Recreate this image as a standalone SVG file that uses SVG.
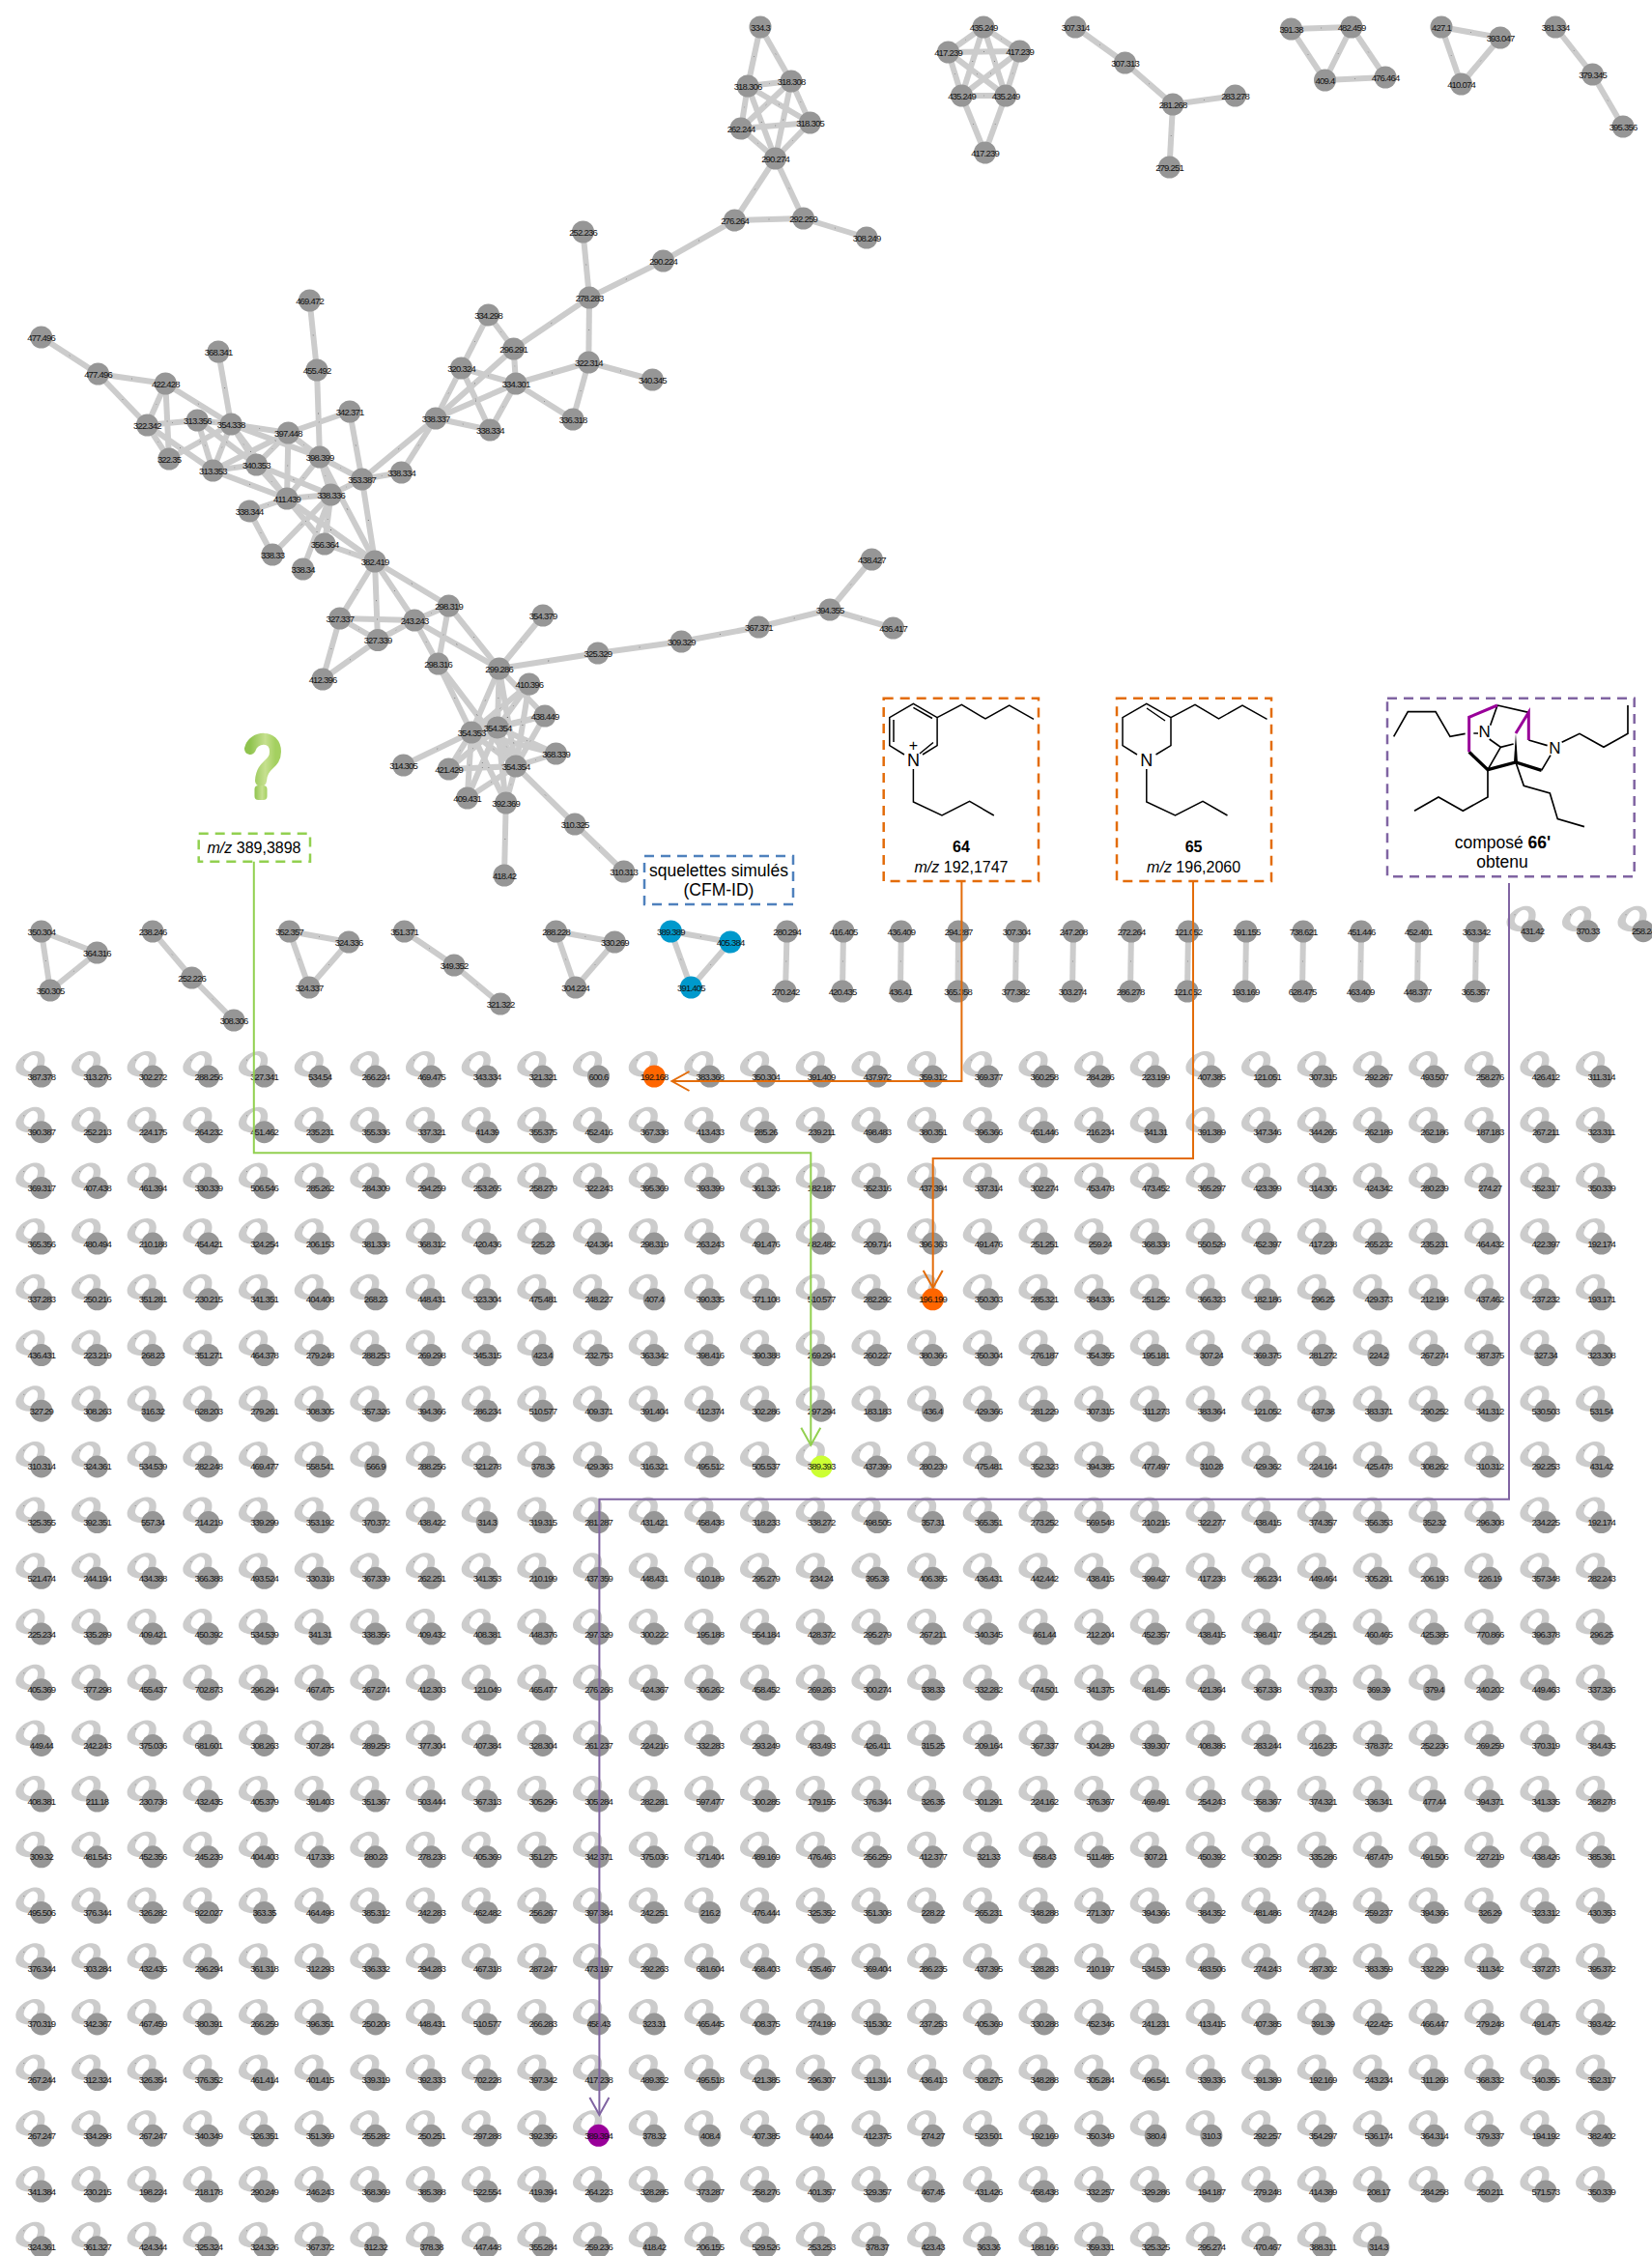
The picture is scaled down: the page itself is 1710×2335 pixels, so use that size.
<svg xmlns="http://www.w3.org/2000/svg" width="1710" height="2335" viewBox="0 0 1710 2335">
<style>
text{font-family:"Liberation Sans",Arial,sans-serif}
.g text,g.g text{font-size:9.5px;letter-spacing:-.8px;fill:#111;text-anchor:middle;dominant-baseline:central}
.c{fill:#969696}
.le{fill:#ccc;fill-rule:evenodd}
.ed{stroke:#ccc;stroke-width:6;fill:none}
.dt{stroke:#666;stroke-width:1;fill:none;stroke-dasharray:0 .99 .02 3}
.box{fill:none;stroke-width:2.5;stroke-dasharray:10 7}
.ln{fill:none;stroke-width:2}
.t{font-size:16px;fill:#000;text-anchor:middle}
.t2{font-size:17.5px;fill:#000;text-anchor:middle}
.mol{fill:none;stroke:#000;stroke-width:1.5;stroke-linejoin:miter}
.at{font-size:18px;fill:#000;text-anchor:middle}
</style>
<defs>
<g id="l"><path class="le" d="M-2,0C-12,2 -27,0 -26.5,-9C-26,-18 -14,-26.5 -5,-26C3,-25 5,-19 3,-12L1,-2ZM-12,-5C-16,-6 -19,-9 -18,-12C-17,-17 -12,-22.5 -8,-22C-4,-21 -3,-18 -4,-14C-5,-10 -7,-7 -8,-6Z"/><circle cx="-18" cy="-17" r=".5" fill="#777"/></g>
<circle id="c" class="c" r="11.5"/>
<g id="R25"><use href="#l" x="42.8"/><use href="#l" x="100.5"/><use href="#l" x="158.1"/><use href="#l" x="215.8"/><use href="#l" x="273.5"/><use href="#l" x="331.2"/><use href="#l" x="388.8"/><use href="#l" x="446.5"/><use href="#l" x="504.2"/><use href="#l" x="561.8"/><use href="#l" x="619.5"/><use href="#l" x="677.2"/><use href="#l" x="734.8"/><use href="#l" x="792.5"/><use href="#l" x="850.2"/><use href="#l" x="907.9"/><use href="#l" x="965.5"/><use href="#l" x="1023.2"/><use href="#l" x="1080.9"/><use href="#l" x="1138.5"/><use href="#l" x="1196.2"/><use href="#l" x="1253.9"/><use href="#l" x="1311.5"/><use href="#l" x="1369.2"/><use href="#l" x="1426.9"/></g>
<g id="R"><use href="#R25"/><use href="#l" x="1484.6"/><use href="#l" x="1542.2"/><use href="#l" x="1599.9"/><use href="#l" x="1657.6"/></g>
<g id="E">
<path pathLength="2" d="M787 28L774 89"/>
<path pathLength="2" d="M787 28L819 84"/><path pathLength="2" d="M774 89L819 84"/><path pathLength="2" d="M774 89L767 133"/><path pathLength="2" d="M774 89L838.5 127"/><path pathLength="2" d="M774 89L802.5 164"/><path pathLength="2" d="M819 84L767 133"/><path pathLength="2" d="M819 84L838.5 127"/><path pathLength="2" d="M819 84L802.5 164"/><path pathLength="2" d="M767 133L838.5 127"/><path pathLength="2" d="M767 133L802.5 164"/><path pathLength="2" d="M838.5 127L802.5 164"/><path pathLength="2" d="M802.5 164L760.5 228"/><path pathLength="2" d="M802.5 164L831.5 226"/><path pathLength="2" d="M760.5 228L831.5 226"/><path pathLength="2" d="M831.5 226L897 246"/><path pathLength="2" d="M760.5 228L686.5 270"/>
<path pathLength="2" d="M1018 28L981.5 54"/><path pathLength="2" d="M1018 28L1055.5 53"/><path pathLength="2" d="M981.5 54L1055.5 53"/><path pathLength="2" d="M981.5 54L995.5 99"/><path pathLength="2" d="M981.5 54L1041 99"/><path pathLength="2" d="M1055.5 53L995.5 99"/><path pathLength="2" d="M1055.5 53L1041 99"/><path pathLength="2" d="M995.5 99L1041 99"/><path pathLength="2" d="M1018 28L995.5 99"/><path pathLength="2" d="M1018 28L1041 99"/><path pathLength="2" d="M995.5 99L1019.5 158"/><path pathLength="2" d="M1041 99L1019.5 158"/>
<path pathLength="2" d="M1113 28L1164.5 65"/><path pathLength="2" d="M1164.5 65L1214 108"/><path pathLength="2" d="M1214 108L1278.5 99"/><path pathLength="2" d="M1214 108L1210.5 173"/>
<path pathLength="2" d="M1336.5 30L1399 28"/><path pathLength="2" d="M1336.5 30L1371.5 83"/><path pathLength="2" d="M1399 28L1371.5 83"/><path pathLength="2" d="M1399 28L1434 80"/><path pathLength="2" d="M1371.5 83L1434 80"/>
<path pathLength="2" d="M1492 28L1553 39"/><path pathLength="2" d="M1492 28L1512.5 87"/><path pathLength="2" d="M1553 39L1512.5 87"/>
<path pathLength="2" d="M1610 28L1648.5 77"/><path pathLength="2" d="M1648.5 77L1680 131"/>
<path pathLength="2" d="M42.7 349L101.5 387"/><path pathLength="2" d="M101.5 387L171.3 397"/><path pathLength="2" d="M101.5 387L152.4 440"/><path pathLength="2" d="M171.3 397L152.4 440"/><path pathLength="2" d="M171.3 397L175 475"/><path pathLength="2" d="M171.3 397L239.2 439"/><path pathLength="2" d="M152.4 440L204.3 435"/><path pathLength="2" d="M152.4 440L175 475"/><path pathLength="2" d="M152.4 440L220.4 487"/><path pathLength="2" d="M204.3 435L239.2 439"/><path pathLength="2" d="M204.3 435L220.4 487"/><path pathLength="2" d="M204.3 435L265.4 481"/><path pathLength="2" d="M175 475L239.2 439"/><path pathLength="2" d="M226 364L239.2 439"/><path pathLength="2" d="M239.2 439L298.4 448"/><path pathLength="2" d="M239.2 439L331 473"/><path pathLength="2" d="M239.2 439L220.4 487"/><path pathLength="2" d="M239.2 439L265.4 481"/><path pathLength="2" d="M239.2 439L297 516"/><path pathLength="2" d="M298.4 448L220.4 487"/><path pathLength="2" d="M298.4 448L265.4 481"/><path pathLength="2" d="M298.4 448L297 516"/><path pathLength="2" d="M298.4 448L331 473"/><path pathLength="2" d="M298.4 448L362 426"/><path pathLength="2" d="M320.5 311L328 383"/><path pathLength="2" d="M328 383L331 473"/><path pathLength="2" d="M362 426L374.7 496"/><path pathLength="2" d="M331 473L374.7 496"/><path pathLength="2" d="M331 473L297 516"/><path pathLength="2" d="M331 473L342.5 512"/><path pathLength="2" d="M331 473L388 581"/><path pathLength="2" d="M265.4 481L220.4 487"/><path pathLength="2" d="M265.4 481L297 516"/><path pathLength="2" d="M265.4 481L342.5 512"/><path pathLength="2" d="M220.4 487L297 516"/><path pathLength="2" d="M297 516L342.5 512"/><path pathLength="2" d="M297 516L258 529"/><path pathLength="2" d="M297 516L388 581"/><path pathLength="2" d="M297 516L336 563"/><path pathLength="2" d="M342.5 512L374.7 496"/><path pathLength="2" d="M342.5 512L282 574"/><path pathLength="2" d="M342.5 512L336 563"/><path pathLength="2" d="M342.5 512L313.6 589"/><path pathLength="2" d="M258 529L282 574"/><path pathLength="2" d="M336 563L388 581"/><path pathLength="2" d="M374.7 496L415.5 489"/><path pathLength="2" d="M374.7 496L388 581"/><path pathLength="2" d="M374.7 496L451 433"/><path pathLength="2" d="M415.5 489L451 433"/><path pathLength="2" d="M451 433L477.5 381"/><path pathLength="2" d="M451 433L507.3 445"/><path pathLength="2" d="M451 433L531.7 361"/><path pathLength="2" d="M451 433L534 397"/><path pathLength="2" d="M477.5 381L505.5 326"/><path pathLength="2" d="M477.5 381L534 397"/><path pathLength="2" d="M477.5 381L507.3 445"/><path pathLength="2" d="M505.5 326L531.7 361"/><path pathLength="2" d="M531.7 361L534 397"/><path pathLength="2" d="M531.7 361L610 308"/><path pathLength="2" d="M534 397L507.3 445"/><path pathLength="2" d="M534 397L609.3 375"/><path pathLength="2" d="M534 397L593 434"/><path pathLength="2" d="M609.3 375L593 434"/><path pathLength="2" d="M609.3 375L675.4 393"/><path pathLength="2" d="M609.3 375L610 308"/><path pathLength="2" d="M610 308L603.5 240"/><path pathLength="2" d="M610 308L686.5 270"/>
<path pathLength="2" d="M388 581L351.8 640"/><path pathLength="2" d="M388 581L391 662.5"/><path pathLength="2" d="M388 581L429 642"/><path pathLength="2" d="M388 581L464.5 627"/><path pathLength="2" d="M351.8 640L429 642"/><path pathLength="2" d="M351.8 640L391 662.5"/><path pathLength="2" d="M351.8 640L334 703"/><path pathLength="2" d="M391 662.5L429 642"/><path pathLength="2" d="M391 662.5L334 703"/><path pathLength="2" d="M429 642L464.5 627"/><path pathLength="2" d="M429 642L453.5 687"/><path pathLength="2" d="M429 642L516.7 692"/><path pathLength="2" d="M464.5 627L453.5 687"/><path pathLength="2" d="M464.5 627L516.7 692"/><path pathLength="2" d="M453.5 687L488 758"/><path pathLength="2" d="M453.5 687L534 793"/><path pathLength="2" d="M562 637L516.7 692"/><path pathLength="2" d="M516.7 692L618.8 676"/><path pathLength="2" d="M618.8 676L705.3 664"/><path pathLength="2" d="M705.3 664L785.3 649"/><path pathLength="2" d="M785.3 649L859 631"/><path pathLength="2" d="M859 631L902.4 579"/><path pathLength="2" d="M859 631L924.5 650"/><path pathLength="2" d="M516.7 692L488 758"/><path pathLength="2" d="M516.7 692L515 753"/><path pathLength="2" d="M516.7 692L534 793"/><path pathLength="2" d="M516.7 692L564 741"/><path pathLength="2" d="M547.8 708L488 758"/><path pathLength="2" d="M547.8 708L515 753"/><path pathLength="2" d="M547.8 708L534 793"/><path pathLength="2" d="M564 741L488 758"/><path pathLength="2" d="M564 741L515 753"/><path pathLength="2" d="M564 741L534 793"/><path pathLength="2" d="M488 758L515 753"/><path pathLength="2" d="M488 758L534 793"/><path pathLength="2" d="M488 758L575.5 780"/><path pathLength="2" d="M488 758L417.6 792"/><path pathLength="2" d="M488 758L464.5 796"/><path pathLength="2" d="M488 758L483.7 826"/><path pathLength="2" d="M488 758L523.7 831"/><path pathLength="2" d="M515 753L575.5 780"/><path pathLength="2" d="M515 753L534 793"/><path pathLength="2" d="M515 753L464.5 796"/><path pathLength="2" d="M515 753L483.7 826"/><path pathLength="2" d="M515 753L523.7 831"/><path pathLength="2" d="M534 793L575.5 780"/><path pathLength="2" d="M534 793L464.5 796"/><path pathLength="2" d="M534 793L483.7 826"/><path pathLength="2" d="M534 793L523.7 831"/><path pathLength="2" d="M534 793L595 853"/><path pathLength="2" d="M523.7 831L522 906"/><path pathLength="2" d="M595 853L645.7 902"/>
<path pathLength="2" d="M42.8 964L100.4 986"/><path pathLength="2" d="M42.8 964L52 1025"/><path pathLength="2" d="M100.4 986L52 1025"/><path pathLength="2" d="M158 964L198.6 1012"/><path pathLength="2" d="M198.6 1012L242 1056"/><path pathLength="2" d="M299.5 964L361 975"/><path pathLength="2" d="M299.5 964L320 1022"/><path pathLength="2" d="M361 975L320 1022"/><path pathLength="2" d="M418.5 964L470 999"/><path pathLength="2" d="M470 999L518 1039"/><path pathLength="2" d="M575.5 964L636.3 975"/><path pathLength="2" d="M575.5 964L595.7 1022"/><path pathLength="2" d="M636.3 975L595.7 1022"/><path pathLength="2" d="M694.4 964L756 975"/><path pathLength="2" d="M694.4 964L715.3 1022"/><path pathLength="2" d="M756 975L715.3 1022"/><path pathLength="2" d="M814.6 964L813 1026"/><path pathLength="2" d="M873 964L872 1026"/><path pathLength="2" d="M932.8 964L932 1026"/><path pathLength="2" d="M992 964L991.5 1026"/><path pathLength="2" d="M1052 964L1051 1026"/><path pathLength="2" d="M1111 964L1110 1026"/><path pathLength="2" d="M1171 964L1170 1026"/><path pathLength="2" d="M1230 964L1229 1026"/><path pathLength="2" d="M1290 964L1289 1026"/><path pathLength="2" d="M1349 964L1348 1026"/><path pathLength="2" d="M1409 964L1408 1026"/><path pathLength="2" d="M1468 964L1467 1026"/><path pathLength="2" d="M1528 964L1527 1026"/>
</g>
<marker id="mo" markerWidth="24" markerHeight="24" refX="20" refY="12" orient="auto" markerUnits="userSpaceOnUse"><path d="M2,2L20,12L2,22" fill="none" stroke="#e36c0a" stroke-width="2"/></marker>
<marker id="mg" markerWidth="24" markerHeight="24" refX="20" refY="12" orient="auto" markerUnits="userSpaceOnUse"><path d="M2,2L20,12L2,22" fill="none" stroke="#92d050" stroke-width="2"/></marker>
<marker id="mp" markerWidth="24" markerHeight="24" refX="20" refY="12" orient="auto" markerUnits="userSpaceOnUse"><path d="M2,2L20,12L2,22" fill="none" stroke="#8064a2" stroke-width="2"/></marker>
<linearGradient id="qg" x1="0" y1="0" x2="1" y2="0"><stop offset="0" stop-color="#8fc34e"/><stop offset=".6" stop-color="#c6e08f"/><stop offset="1" stop-color="#a4d060"/></linearGradient>
</defs>
<rect width="1710" height="2335" fill="#fff"/>
<g id="connectors">
<use href="#E" class="ed"/><use href="#E" class="dt"/>
<use href="#l" x="1586" y="963.7"/><use href="#l" x="1643.5" y="963.7"/><use href="#l" x="1701" y="963.7"/>
<use href="#R" y="1114"/><use href="#R" y="1171.7"/><use href="#R" y="1229.4"/><use href="#R" y="1287.1"/><use href="#R" y="1344.8"/><use href="#R" y="1402.5"/><use href="#R" y="1460.2"/><use href="#R" y="1517.9"/><use href="#R" y="1575.6"/><use href="#R" y="1633.3"/><use href="#R" y="1691"/><use href="#R" y="1748.7"/><use href="#R" y="1806.4"/><use href="#R" y="1864.1"/><use href="#R" y="1921.8"/><use href="#R" y="1979.5"/><use href="#R" y="2037.2"/><use href="#R" y="2094.9"/><use href="#R" y="2152.6"/><use href="#R" y="2210.3"/><use href="#R" y="2268"/><use href="#R25" y="2325.7"/>
</g>
<g id="upper-nodes" class="g">
<g id="u1" transform="translate(787,28)"><use href="#c"/><text>334.3</text></g>
<g id="u2" transform="translate(774,89)"><use href="#c"/><text>318.306</text></g>
<g id="u3" transform="translate(819,84)"><use href="#c"/><text>318.308</text></g>
<g id="u4" transform="translate(767,133)"><use href="#c"/><text>262.244</text></g>
<g id="u5" transform="translate(838.5,127)"><use href="#c"/><text>318.305</text></g>
<g id="u6" transform="translate(802.5,164)"><use href="#c"/><text>290.274</text></g>
<g id="u7" transform="translate(760.5,228)"><use href="#c"/><text>276.264</text></g>
<g id="u8" transform="translate(831.5,226)"><use href="#c"/><text>292.259</text></g>
<g id="u9" transform="translate(897,246)"><use href="#c"/><text>308.249</text></g>
<g id="u10" transform="translate(686.5,270)"><use href="#c"/><text>290.224</text></g>
<g id="u11" transform="translate(603.5,240)"><use href="#c"/><text>252.236</text></g>
<g id="u12" transform="translate(1018,28)"><use href="#c"/><text>435.249</text></g>
<g id="u13" transform="translate(981.5,54)"><use href="#c"/><text>417.239</text></g>
<g id="u14" transform="translate(1055.5,53)"><use href="#c"/><text>417.239</text></g>
<g id="u15" transform="translate(995.5,99)"><use href="#c"/><text>435.249</text></g>
<g id="u16" transform="translate(1041,99)"><use href="#c"/><text>435.249</text></g>
<g id="u17" transform="translate(1019.5,158)"><use href="#c"/><text>417.239</text></g>
<g id="u18" transform="translate(1113,28)"><use href="#c"/><text>307.314</text></g>
<g id="u19" transform="translate(1164.5,65)"><use href="#c"/><text>307.313</text></g>
<g id="u20" transform="translate(1214,108)"><use href="#c"/><text>281.268</text></g>
<g id="u21" transform="translate(1278.5,99)"><use href="#c"/><text>283.278</text></g>
<g id="u22" transform="translate(1210.5,173)"><use href="#c"/><text>279.251</text></g>
<g id="u23" transform="translate(1336.5,30)"><use href="#c"/><text>391.38</text></g>
<g id="u24" transform="translate(1399,28)"><use href="#c"/><text>482.459</text></g>
<g id="u25" transform="translate(1371.5,83)"><use href="#c"/><text>409.4</text></g>
<g id="u26" transform="translate(1434,80)"><use href="#c"/><text>476.464</text></g>
<g id="u27" transform="translate(1492,28)"><use href="#c"/><text>427.1</text></g>
<g id="u28" transform="translate(1553,39)"><use href="#c"/><text>393.047</text></g>
<g id="u29" transform="translate(1512.5,87)"><use href="#c"/><text>410.074</text></g>
<g id="u30" transform="translate(1610,28)"><use href="#c"/><text>381.334</text></g>
<g id="u31" transform="translate(1648.5,77)"><use href="#c"/><text>379.345</text></g>
<g id="u32" transform="translate(1680,131)"><use href="#c"/><text>395.356</text></g>
<g id="u33" transform="translate(42.7,349)"><use href="#c"/><text>477.496</text></g>
<g id="u34" transform="translate(101.5,387)"><use href="#c"/><text>477.496</text></g>
<g id="u35" transform="translate(171.3,397)"><use href="#c"/><text>422.428</text></g>
<g id="u36" transform="translate(152.4,440)"><use href="#c"/><text>322.342</text></g>
<g id="u37" transform="translate(204.3,435)"><use href="#c"/><text>313.356</text></g>
<g id="u38" transform="translate(239.2,439)"><use href="#c"/><text>354.338</text></g>
<g id="u39" transform="translate(226,364)"><use href="#c"/><text>368.341</text></g>
<g id="u40" transform="translate(320.5,311)"><use href="#c"/><text>469.472</text></g>
<g id="u41" transform="translate(328,383)"><use href="#c"/><text>455.492</text></g>
<g id="u42" transform="translate(362,426)"><use href="#c"/><text>342.371</text></g>
<g id="u43" transform="translate(298.4,448)"><use href="#c"/><text>397.448</text></g>
<g id="u44" transform="translate(331,473)"><use href="#c"/><text>398.399</text></g>
<g id="u45" transform="translate(265.4,481)"><use href="#c"/><text>340.353</text></g>
<g id="u46" transform="translate(175,475)"><use href="#c"/><text>322.35</text></g>
<g id="u47" transform="translate(220.4,487)"><use href="#c"/><text>313.353</text></g>
<g id="u48" transform="translate(297,516)"><use href="#c"/><text>411.439</text></g>
<g id="u49" transform="translate(342.5,512)"><use href="#c"/><text>338.336</text></g>
<g id="u50" transform="translate(374.7,496)"><use href="#c"/><text>353.387</text></g>
<g id="u51" transform="translate(415.5,489)"><use href="#c"/><text>338.334</text></g>
<g id="u52" transform="translate(258,529)"><use href="#c"/><text>338.344</text></g>
<g id="u53" transform="translate(282,574)"><use href="#c"/><text>338.33</text></g>
<g id="u54" transform="translate(313.6,589)"><use href="#c"/><text>338.34</text></g>
<g id="u55" transform="translate(336,563)"><use href="#c"/><text>356.364</text></g>
<g id="u56" transform="translate(388,581)"><use href="#c"/><text>382.419</text></g>
<g id="u57" transform="translate(451,433)"><use href="#c"/><text>338.337</text></g>
<g id="u58" transform="translate(477.5,381)"><use href="#c"/><text>320.324</text></g>
<g id="u59" transform="translate(505.5,326)"><use href="#c"/><text>334.298</text></g>
<g id="u60" transform="translate(531.7,361)"><use href="#c"/><text>296.291</text></g>
<g id="u61" transform="translate(534,397)"><use href="#c"/><text>334.301</text></g>
<g id="u62" transform="translate(507.3,445)"><use href="#c"/><text>338.334</text></g>
<g id="u63" transform="translate(593,434)"><use href="#c"/><text>336.318</text></g>
<g id="u64" transform="translate(609.3,375)"><use href="#c"/><text>322.314</text></g>
<g id="u65" transform="translate(675.4,393)"><use href="#c"/><text>340.345</text></g>
<g id="u66" transform="translate(610,308)"><use href="#c"/><text>278.283</text></g>
<g id="u67" transform="translate(351.8,640)"><use href="#c"/><text>327.337</text></g>
<g id="u68" transform="translate(429,642)"><use href="#c"/><text>243.243</text></g>
<g id="u69" transform="translate(464.5,627)"><use href="#c"/><text>298.319</text></g>
<g id="u70" transform="translate(562,637)"><use href="#c"/><text>354.379</text></g>
<g id="u71" transform="translate(391,662.5)"><use href="#c"/><text>327.339</text></g>
<g id="u72" transform="translate(334,703)"><use href="#c"/><text>412.396</text></g>
<g id="u73" transform="translate(453.5,687)"><use href="#c"/><text>298.316</text></g>
<g id="u74" transform="translate(516.7,692)"><use href="#c"/><text>299.286</text></g>
<g id="u75" transform="translate(547.8,708)"><use href="#c"/><text>410.396</text></g>
<g id="u76" transform="translate(564,741)"><use href="#c"/><text>438.449</text></g>
<g id="u77" transform="translate(488,758)"><use href="#c"/><text>354.353</text></g>
<g id="u78" transform="translate(515,753)"><use href="#c"/><text>354.354</text></g>
<g id="u79" transform="translate(575.5,780)"><use href="#c"/><text>368.339</text></g>
<g id="u80" transform="translate(417.6,792)"><use href="#c"/><text>314.305</text></g>
<g id="u81" transform="translate(464.5,796)"><use href="#c"/><text>421.429</text></g>
<g id="u82" transform="translate(534,793)"><use href="#c"/><text>354.354</text></g>
<g id="u83" transform="translate(483.7,826)"><use href="#c"/><text>409.431</text></g>
<g id="u84" transform="translate(523.7,831)"><use href="#c"/><text>392.369</text></g>
<g id="u85" transform="translate(595,853)"><use href="#c"/><text>310.325</text></g>
<g id="u86" transform="translate(522,906)"><use href="#c"/><text>418.42</text></g>
<g id="u87" transform="translate(645.7,902)"><use href="#c"/><text>310.313</text></g>
<g id="u88" transform="translate(618.8,676)"><use href="#c"/><text>325.329</text></g>
<g id="u89" transform="translate(705.3,664)"><use href="#c"/><text>309.329</text></g>
<g id="u90" transform="translate(785.3,649)"><use href="#c"/><text>367.371</text></g>
<g id="u91" transform="translate(859,631)"><use href="#c"/><text>394.355</text></g>
<g id="u92" transform="translate(902.4,579)"><use href="#c"/><text>438.427</text></g>
<g id="u93" transform="translate(924.5,650)"><use href="#c"/><text>436.417</text></g>
</g>
<g id="small-nodes" class="g">
<g id="s1" transform="translate(42.8,964)"><use href="#c"/><text>350.304</text></g>
<g id="s2" transform="translate(100.4,986)"><use href="#c"/><text>364.316</text></g>
<g id="s3" transform="translate(52,1025)"><use href="#c"/><text>350.305</text></g>
<g id="s4" transform="translate(158,964)"><use href="#c"/><text>238.246</text></g>
<g id="s5" transform="translate(198.6,1012)"><use href="#c"/><text>252.226</text></g>
<g id="s6" transform="translate(242,1056)"><use href="#c"/><text>308.306</text></g>
<g id="s7" transform="translate(299.5,964)"><use href="#c"/><text>352.357</text></g>
<g id="s8" transform="translate(361,975)"><use href="#c"/><text>324.336</text></g>
<g id="s9" transform="translate(320,1022)"><use href="#c"/><text>324.337</text></g>
<g id="s10" transform="translate(418.5,964)"><use href="#c"/><text>351.371</text></g>
<g id="s11" transform="translate(470,999)"><use href="#c"/><text>349.352</text></g>
<g id="s12" transform="translate(518,1039)"><use href="#c"/><text>321.322</text></g>
<g id="s13" transform="translate(575.5,964)"><use href="#c"/><text>288.228</text></g>
<g id="s14" transform="translate(636.3,975)"><use href="#c"/><text>330.269</text></g>
<g id="s15" transform="translate(595.7,1022)"><use href="#c"/><text>304.224</text></g>
<g id="s16" transform="translate(694.4,964)"><circle r="11.5" fill="#0099cc"/><text>389.389</text></g>
<g id="s17" transform="translate(756,975)"><circle r="11.5" fill="#0099cc"/><text>405.384</text></g>
<g id="s18" transform="translate(715.3,1022)"><circle r="11.5" fill="#0099cc"/><text>391.405</text></g>
<g id="s19" transform="translate(814.6,964)"><use href="#c"/><text>280.294</text></g>
<g id="s20" transform="translate(813,1026)"><use href="#c"/><text>270.242</text></g>
<g id="s21" transform="translate(873,964)"><use href="#c"/><text>416.405</text></g>
<g id="s22" transform="translate(872,1026)"><use href="#c"/><text>420.435</text></g>
<g id="s23" transform="translate(932.8,964)"><use href="#c"/><text>436.409</text></g>
<g id="s24" transform="translate(932,1026)"><use href="#c"/><text>436.41</text></g>
<g id="s25" transform="translate(992,964)"><use href="#c"/><text>294.287</text></g>
<g id="s26" transform="translate(991.5,1026)"><use href="#c"/><text>365.358</text></g>
<g id="s27" transform="translate(1052,964)"><use href="#c"/><text>307.304</text></g>
<g id="s28" transform="translate(1051,1026)"><use href="#c"/><text>377.382</text></g>
<g id="s29" transform="translate(1111,964)"><use href="#c"/><text>247.208</text></g>
<g id="s30" transform="translate(1110,1026)"><use href="#c"/><text>303.274</text></g>
<g id="s31" transform="translate(1171,964)"><use href="#c"/><text>272.264</text></g>
<g id="s32" transform="translate(1170,1026)"><use href="#c"/><text>286.278</text></g>
<g id="s33" transform="translate(1230,964)"><use href="#c"/><text>121.052</text></g>
<g id="s34" transform="translate(1229,1026)"><use href="#c"/><text>121.052</text></g>
<g id="s35" transform="translate(1290,964)"><use href="#c"/><text>191.155</text></g>
<g id="s36" transform="translate(1289,1026)"><use href="#c"/><text>193.169</text></g>
<g id="s37" transform="translate(1349,964)"><use href="#c"/><text>738.621</text></g>
<g id="s38" transform="translate(1348,1026)"><use href="#c"/><text>628.475</text></g>
<g id="s39" transform="translate(1409,964)"><use href="#c"/><text>451.446</text></g>
<g id="s40" transform="translate(1408,1026)"><use href="#c"/><text>463.409</text></g>
<g id="s41" transform="translate(1468,964)"><use href="#c"/><text>452.401</text></g>
<g id="s42" transform="translate(1467,1026)"><use href="#c"/><text>448.377</text></g>
<g id="s43" transform="translate(1528,964)"><use href="#c"/><text>363.342</text></g>
<g id="s44" transform="translate(1527,1026)"><use href="#c"/><text>365.357</text></g>
<g id="s45" transform="translate(1586,963.7)"><use href="#c"/><text>431.42</text></g>
<g id="s46" transform="translate(1643.5,963.7)"><use href="#c"/><text>370.33</text></g>
<g id="s47" transform="translate(1701,963.7)"><use href="#c"/><text>258.24</text></g>
</g>
<g id="grid" class="g">
<g transform="translate(0,1114)"><g id="a0" transform="translate(42.8)"><use href="#c"/><text>387.378</text></g><g id="a1" transform="translate(100.5)"><use href="#c"/><text>313.276</text></g><g id="a2" transform="translate(158.1)"><use href="#c"/><text>302.272</text></g><g id="a3" transform="translate(215.8)"><use href="#c"/><text>288.256</text></g><g id="a4" transform="translate(273.5)"><use href="#c"/><text>327.341</text></g><g id="a5" transform="translate(331.2)"><use href="#c"/><text>534.54</text></g><g id="a6" transform="translate(388.8)"><use href="#c"/><text>266.224</text></g><g id="a7" transform="translate(446.5)"><use href="#c"/><text>469.475</text></g><g id="a8" transform="translate(504.2)"><use href="#c"/><text>343.334</text></g><g id="a9" transform="translate(561.8)"><use href="#c"/><text>321.321</text></g><g id="a10" transform="translate(619.5)"><use href="#c"/><text>600.6</text></g><g id="a11" transform="translate(677.2)"><circle r="11.5" fill="#ff6600"/><text>192.168</text></g><g id="a12" transform="translate(734.8)"><use href="#c"/><text>383.368</text></g><g id="a13" transform="translate(792.5)"><use href="#c"/><text>350.304</text></g><g id="a14" transform="translate(850.2)"><use href="#c"/><text>391.409</text></g><g id="a15" transform="translate(907.9)"><use href="#c"/><text>437.972</text></g><g id="a16" transform="translate(965.5)"><use href="#c"/><text>359.312</text></g><g id="a17" transform="translate(1023.2)"><use href="#c"/><text>369.377</text></g><g id="a18" transform="translate(1080.9)"><use href="#c"/><text>360.258</text></g><g id="a19" transform="translate(1138.5)"><use href="#c"/><text>284.286</text></g><g id="a20" transform="translate(1196.2)"><use href="#c"/><text>223.199</text></g><g id="a21" transform="translate(1253.9)"><use href="#c"/><text>407.385</text></g><g id="a22" transform="translate(1311.5)"><use href="#c"/><text>121.051</text></g><g id="a23" transform="translate(1369.2)"><use href="#c"/><text>307.315</text></g><g id="a24" transform="translate(1426.9)"><use href="#c"/><text>292.267</text></g><g id="a25" transform="translate(1484.6)"><use href="#c"/><text>493.507</text></g><g id="a26" transform="translate(1542.2)"><use href="#c"/><text>258.276</text></g><g id="a27" transform="translate(1599.9)"><use href="#c"/><text>426.412</text></g><g id="a28" transform="translate(1657.6)"><use href="#c"/><text>311.314</text></g></g>
<g transform="translate(0,1171.7)"><g id="b0" transform="translate(42.8)"><use href="#c"/><text>390.387</text></g><g id="b1" transform="translate(100.5)"><use href="#c"/><text>252.213</text></g><g id="b2" transform="translate(158.1)"><use href="#c"/><text>224.175</text></g><g id="b3" transform="translate(215.8)"><use href="#c"/><text>264.232</text></g><g id="b4" transform="translate(273.5)"><use href="#c"/><text>451.462</text></g><g id="b5" transform="translate(331.2)"><use href="#c"/><text>235.231</text></g><g id="b6" transform="translate(388.8)"><use href="#c"/><text>355.336</text></g><g id="b7" transform="translate(446.5)"><use href="#c"/><text>337.321</text></g><g id="b8" transform="translate(504.2)"><use href="#c"/><text>414.39</text></g><g id="b9" transform="translate(561.8)"><use href="#c"/><text>355.375</text></g><g id="b10" transform="translate(619.5)"><use href="#c"/><text>452.416</text></g><g id="b11" transform="translate(677.2)"><use href="#c"/><text>367.338</text></g><g id="b12" transform="translate(734.8)"><use href="#c"/><text>413.433</text></g><g id="b13" transform="translate(792.5)"><use href="#c"/><text>285.26</text></g><g id="b14" transform="translate(850.2)"><use href="#c"/><text>239.211</text></g><g id="b15" transform="translate(907.9)"><use href="#c"/><text>498.483</text></g><g id="b16" transform="translate(965.5)"><use href="#c"/><text>380.351</text></g><g id="b17" transform="translate(1023.2)"><use href="#c"/><text>396.366</text></g><g id="b18" transform="translate(1080.9)"><use href="#c"/><text>451.446</text></g><g id="b19" transform="translate(1138.5)"><use href="#c"/><text>216.234</text></g><g id="b20" transform="translate(1196.2)"><use href="#c"/><text>341.31</text></g><g id="b21" transform="translate(1253.9)"><use href="#c"/><text>391.389</text></g><g id="b22" transform="translate(1311.5)"><use href="#c"/><text>347.346</text></g><g id="b23" transform="translate(1369.2)"><use href="#c"/><text>344.265</text></g><g id="b24" transform="translate(1426.9)"><use href="#c"/><text>262.189</text></g><g id="b25" transform="translate(1484.6)"><use href="#c"/><text>262.186</text></g><g id="b26" transform="translate(1542.2)"><use href="#c"/><text>187.183</text></g><g id="b27" transform="translate(1599.9)"><use href="#c"/><text>267.211</text></g><g id="b28" transform="translate(1657.6)"><use href="#c"/><text>323.311</text></g></g>
<g transform="translate(0,1229.4)"><g id="c0" transform="translate(42.8)"><use href="#c"/><text>369.317</text></g><g id="c1" transform="translate(100.5)"><use href="#c"/><text>407.438</text></g><g id="c2" transform="translate(158.1)"><use href="#c"/><text>461.394</text></g><g id="c3" transform="translate(215.8)"><use href="#c"/><text>330.339</text></g><g id="c4" transform="translate(273.5)"><use href="#c"/><text>506.546</text></g><g id="c5" transform="translate(331.2)"><use href="#c"/><text>285.262</text></g><g id="c6" transform="translate(388.8)"><use href="#c"/><text>284.309</text></g><g id="c7" transform="translate(446.5)"><use href="#c"/><text>294.259</text></g><g id="c8" transform="translate(504.2)"><use href="#c"/><text>253.265</text></g><g id="c9" transform="translate(561.8)"><use href="#c"/><text>258.279</text></g><g id="c10" transform="translate(619.5)"><use href="#c"/><text>322.243</text></g><g id="c11" transform="translate(677.2)"><use href="#c"/><text>395.369</text></g><g id="c12" transform="translate(734.8)"><use href="#c"/><text>393.399</text></g><g id="c13" transform="translate(792.5)"><use href="#c"/><text>361.326</text></g><g id="c14" transform="translate(850.2)"><use href="#c"/><text>182.187</text></g><g id="c15" transform="translate(907.9)"><use href="#c"/><text>352.316</text></g><g id="c16" transform="translate(965.5)"><use href="#c"/><text>437.394</text></g><g id="c17" transform="translate(1023.2)"><use href="#c"/><text>337.314</text></g><g id="c18" transform="translate(1080.9)"><use href="#c"/><text>302.274</text></g><g id="c19" transform="translate(1138.5)"><use href="#c"/><text>453.478</text></g><g id="c20" transform="translate(1196.2)"><use href="#c"/><text>473.452</text></g><g id="c21" transform="translate(1253.9)"><use href="#c"/><text>365.297</text></g><g id="c22" transform="translate(1311.5)"><use href="#c"/><text>423.399</text></g><g id="c23" transform="translate(1369.2)"><use href="#c"/><text>314.306</text></g><g id="c24" transform="translate(1426.9)"><use href="#c"/><text>424.342</text></g><g id="c25" transform="translate(1484.6)"><use href="#c"/><text>280.239</text></g><g id="c26" transform="translate(1542.2)"><use href="#c"/><text>274.27</text></g><g id="c27" transform="translate(1599.9)"><use href="#c"/><text>352.317</text></g><g id="c28" transform="translate(1657.6)"><use href="#c"/><text>350.339</text></g></g>
<g transform="translate(0,1287.1)"><g id="d0" transform="translate(42.8)"><use href="#c"/><text>365.356</text></g><g id="d1" transform="translate(100.5)"><use href="#c"/><text>480.494</text></g><g id="d2" transform="translate(158.1)"><use href="#c"/><text>210.188</text></g><g id="d3" transform="translate(215.8)"><use href="#c"/><text>454.421</text></g><g id="d4" transform="translate(273.5)"><use href="#c"/><text>324.254</text></g><g id="d5" transform="translate(331.2)"><use href="#c"/><text>206.153</text></g><g id="d6" transform="translate(388.8)"><use href="#c"/><text>381.338</text></g><g id="d7" transform="translate(446.5)"><use href="#c"/><text>368.312</text></g><g id="d8" transform="translate(504.2)"><use href="#c"/><text>420.436</text></g><g id="d9" transform="translate(561.8)"><use href="#c"/><text>225.23</text></g><g id="d10" transform="translate(619.5)"><use href="#c"/><text>424.364</text></g><g id="d11" transform="translate(677.2)"><use href="#c"/><text>298.319</text></g><g id="d12" transform="translate(734.8)"><use href="#c"/><text>263.243</text></g><g id="d13" transform="translate(792.5)"><use href="#c"/><text>491.476</text></g><g id="d14" transform="translate(850.2)"><use href="#c"/><text>482.482</text></g><g id="d15" transform="translate(907.9)"><use href="#c"/><text>209.714</text></g><g id="d16" transform="translate(965.5)"><use href="#c"/><text>396.363</text></g><g id="d17" transform="translate(1023.2)"><use href="#c"/><text>491.476</text></g><g id="d18" transform="translate(1080.9)"><use href="#c"/><text>251.251</text></g><g id="d19" transform="translate(1138.5)"><use href="#c"/><text>259.24</text></g><g id="d20" transform="translate(1196.2)"><use href="#c"/><text>368.338</text></g><g id="d21" transform="translate(1253.9)"><use href="#c"/><text>550.529</text></g><g id="d22" transform="translate(1311.5)"><use href="#c"/><text>452.397</text></g><g id="d23" transform="translate(1369.2)"><use href="#c"/><text>417.238</text></g><g id="d24" transform="translate(1426.9)"><use href="#c"/><text>265.232</text></g><g id="d25" transform="translate(1484.6)"><use href="#c"/><text>235.231</text></g><g id="d26" transform="translate(1542.2)"><use href="#c"/><text>464.432</text></g><g id="d27" transform="translate(1599.9)"><use href="#c"/><text>422.397</text></g><g id="d28" transform="translate(1657.6)"><use href="#c"/><text>192.174</text></g></g>
<g transform="translate(0,1344.8)"><g id="e0" transform="translate(42.8)"><use href="#c"/><text>337.283</text></g><g id="e1" transform="translate(100.5)"><use href="#c"/><text>250.216</text></g><g id="e2" transform="translate(158.1)"><use href="#c"/><text>351.281</text></g><g id="e3" transform="translate(215.8)"><use href="#c"/><text>230.215</text></g><g id="e4" transform="translate(273.5)"><use href="#c"/><text>341.351</text></g><g id="e5" transform="translate(331.2)"><use href="#c"/><text>404.408</text></g><g id="e6" transform="translate(388.8)"><use href="#c"/><text>268.23</text></g><g id="e7" transform="translate(446.5)"><use href="#c"/><text>448.431</text></g><g id="e8" transform="translate(504.2)"><use href="#c"/><text>323.304</text></g><g id="e9" transform="translate(561.8)"><use href="#c"/><text>475.481</text></g><g id="e10" transform="translate(619.5)"><use href="#c"/><text>248.227</text></g><g id="e11" transform="translate(677.2)"><use href="#c"/><text>407.4</text></g><g id="e12" transform="translate(734.8)"><use href="#c"/><text>390.335</text></g><g id="e13" transform="translate(792.5)"><use href="#c"/><text>371.108</text></g><g id="e14" transform="translate(850.2)"><use href="#c"/><text>510.577</text></g><g id="e15" transform="translate(907.9)"><use href="#c"/><text>282.292</text></g><g id="e16" transform="translate(965.5)"><circle r="11.5" fill="#ff6600"/><text>196.199</text></g><g id="e17" transform="translate(1023.2)"><use href="#c"/><text>350.303</text></g><g id="e18" transform="translate(1080.9)"><use href="#c"/><text>285.321</text></g><g id="e19" transform="translate(1138.5)"><use href="#c"/><text>384.336</text></g><g id="e20" transform="translate(1196.2)"><use href="#c"/><text>251.252</text></g><g id="e21" transform="translate(1253.9)"><use href="#c"/><text>366.323</text></g><g id="e22" transform="translate(1311.5)"><use href="#c"/><text>182.186</text></g><g id="e23" transform="translate(1369.2)"><use href="#c"/><text>296.25</text></g><g id="e24" transform="translate(1426.9)"><use href="#c"/><text>429.373</text></g><g id="e25" transform="translate(1484.6)"><use href="#c"/><text>212.198</text></g><g id="e26" transform="translate(1542.2)"><use href="#c"/><text>437.462</text></g><g id="e27" transform="translate(1599.9)"><use href="#c"/><text>237.232</text></g><g id="e28" transform="translate(1657.6)"><use href="#c"/><text>193.171</text></g></g>
<g transform="translate(0,1402.5)"><g id="f0" transform="translate(42.8)"><use href="#c"/><text>436.431</text></g><g id="f1" transform="translate(100.5)"><use href="#c"/><text>223.219</text></g><g id="f2" transform="translate(158.1)"><use href="#c"/><text>268.23</text></g><g id="f3" transform="translate(215.8)"><use href="#c"/><text>351.271</text></g><g id="f4" transform="translate(273.5)"><use href="#c"/><text>464.378</text></g><g id="f5" transform="translate(331.2)"><use href="#c"/><text>279.248</text></g><g id="f6" transform="translate(388.8)"><use href="#c"/><text>288.253</text></g><g id="f7" transform="translate(446.5)"><use href="#c"/><text>269.298</text></g><g id="f8" transform="translate(504.2)"><use href="#c"/><text>345.315</text></g><g id="f9" transform="translate(561.8)"><use href="#c"/><text>423.4</text></g><g id="f10" transform="translate(619.5)"><use href="#c"/><text>232.753</text></g><g id="f11" transform="translate(677.2)"><use href="#c"/><text>363.342</text></g><g id="f12" transform="translate(734.8)"><use href="#c"/><text>398.416</text></g><g id="f13" transform="translate(792.5)"><use href="#c"/><text>390.388</text></g><g id="f14" transform="translate(850.2)"><use href="#c"/><text>269.294</text></g><g id="f15" transform="translate(907.9)"><use href="#c"/><text>260.227</text></g><g id="f16" transform="translate(965.5)"><use href="#c"/><text>380.366</text></g><g id="f17" transform="translate(1023.2)"><use href="#c"/><text>350.304</text></g><g id="f18" transform="translate(1080.9)"><use href="#c"/><text>276.187</text></g><g id="f19" transform="translate(1138.5)"><use href="#c"/><text>354.355</text></g><g id="f20" transform="translate(1196.2)"><use href="#c"/><text>195.181</text></g><g id="f21" transform="translate(1253.9)"><use href="#c"/><text>307.24</text></g><g id="f22" transform="translate(1311.5)"><use href="#c"/><text>369.375</text></g><g id="f23" transform="translate(1369.2)"><use href="#c"/><text>281.272</text></g><g id="f24" transform="translate(1426.9)"><use href="#c"/><text>224.2</text></g><g id="f25" transform="translate(1484.6)"><use href="#c"/><text>267.274</text></g><g id="f26" transform="translate(1542.2)"><use href="#c"/><text>387.375</text></g><g id="f27" transform="translate(1599.9)"><use href="#c"/><text>327.34</text></g><g id="f28" transform="translate(1657.6)"><use href="#c"/><text>323.308</text></g></g>
<g transform="translate(0,1460.2)"><g id="h0" transform="translate(42.8)"><use href="#c"/><text>327.29</text></g><g id="h1" transform="translate(100.5)"><use href="#c"/><text>308.263</text></g><g id="h2" transform="translate(158.1)"><use href="#c"/><text>316.32</text></g><g id="h3" transform="translate(215.8)"><use href="#c"/><text>628.203</text></g><g id="h4" transform="translate(273.5)"><use href="#c"/><text>279.261</text></g><g id="h5" transform="translate(331.2)"><use href="#c"/><text>308.305</text></g><g id="h6" transform="translate(388.8)"><use href="#c"/><text>357.326</text></g><g id="h7" transform="translate(446.5)"><use href="#c"/><text>394.366</text></g><g id="h8" transform="translate(504.2)"><use href="#c"/><text>286.234</text></g><g id="h9" transform="translate(561.8)"><use href="#c"/><text>510.577</text></g><g id="h10" transform="translate(619.5)"><use href="#c"/><text>409.371</text></g><g id="h11" transform="translate(677.2)"><use href="#c"/><text>391.404</text></g><g id="h12" transform="translate(734.8)"><use href="#c"/><text>412.374</text></g><g id="h13" transform="translate(792.5)"><use href="#c"/><text>302.286</text></g><g id="h14" transform="translate(850.2)"><use href="#c"/><text>297.294</text></g><g id="h15" transform="translate(907.9)"><use href="#c"/><text>183.183</text></g><g id="h16" transform="translate(965.5)"><use href="#c"/><text>436.4</text></g><g id="h17" transform="translate(1023.2)"><use href="#c"/><text>429.366</text></g><g id="h18" transform="translate(1080.9)"><use href="#c"/><text>281.229</text></g><g id="h19" transform="translate(1138.5)"><use href="#c"/><text>307.315</text></g><g id="h20" transform="translate(1196.2)"><use href="#c"/><text>311.273</text></g><g id="h21" transform="translate(1253.9)"><use href="#c"/><text>383.364</text></g><g id="h22" transform="translate(1311.5)"><use href="#c"/><text>121.052</text></g><g id="h23" transform="translate(1369.2)"><use href="#c"/><text>437.38</text></g><g id="h24" transform="translate(1426.9)"><use href="#c"/><text>383.371</text></g><g id="h25" transform="translate(1484.6)"><use href="#c"/><text>290.252</text></g><g id="h26" transform="translate(1542.2)"><use href="#c"/><text>341.312</text></g><g id="h27" transform="translate(1599.9)"><use href="#c"/><text>530.503</text></g><g id="h28" transform="translate(1657.6)"><use href="#c"/><text>531.54</text></g></g>
<g transform="translate(0,1517.9)"><g id="i0" transform="translate(42.8)"><use href="#c"/><text>310.314</text></g><g id="i1" transform="translate(100.5)"><use href="#c"/><text>324.361</text></g><g id="i2" transform="translate(158.1)"><use href="#c"/><text>534.539</text></g><g id="i3" transform="translate(215.8)"><use href="#c"/><text>282.248</text></g><g id="i4" transform="translate(273.5)"><use href="#c"/><text>469.477</text></g><g id="i5" transform="translate(331.2)"><use href="#c"/><text>558.541</text></g><g id="i6" transform="translate(388.8)"><use href="#c"/><text>566.9</text></g><g id="i7" transform="translate(446.5)"><use href="#c"/><text>288.256</text></g><g id="i8" transform="translate(504.2)"><use href="#c"/><text>321.278</text></g><g id="i9" transform="translate(561.8)"><use href="#c"/><text>378.36</text></g><g id="i10" transform="translate(619.5)"><use href="#c"/><text>429.363</text></g><g id="i11" transform="translate(677.2)"><use href="#c"/><text>316.321</text></g><g id="i12" transform="translate(734.8)"><use href="#c"/><text>495.512</text></g><g id="i13" transform="translate(792.5)"><use href="#c"/><text>505.537</text></g><g id="i14" transform="translate(850.2)"><circle r="11.5" fill="#ccff33"/><text>389.393</text></g><g id="i15" transform="translate(907.9)"><use href="#c"/><text>437.399</text></g><g id="i16" transform="translate(965.5)"><use href="#c"/><text>280.239</text></g><g id="i17" transform="translate(1023.2)"><use href="#c"/><text>475.481</text></g><g id="i18" transform="translate(1080.9)"><use href="#c"/><text>352.323</text></g><g id="i19" transform="translate(1138.5)"><use href="#c"/><text>394.385</text></g><g id="i20" transform="translate(1196.2)"><use href="#c"/><text>477.497</text></g><g id="i21" transform="translate(1253.9)"><use href="#c"/><text>310.28</text></g><g id="i22" transform="translate(1311.5)"><use href="#c"/><text>429.362</text></g><g id="i23" transform="translate(1369.2)"><use href="#c"/><text>224.164</text></g><g id="i24" transform="translate(1426.9)"><use href="#c"/><text>425.478</text></g><g id="i25" transform="translate(1484.6)"><use href="#c"/><text>308.262</text></g><g id="i26" transform="translate(1542.2)"><use href="#c"/><text>310.312</text></g><g id="i27" transform="translate(1599.9)"><use href="#c"/><text>292.253</text></g><g id="i28" transform="translate(1657.6)"><use href="#c"/><text>431.42</text></g></g>
<g transform="translate(0,1575.6)"><g id="j0" transform="translate(42.8)"><use href="#c"/><text>325.355</text></g><g id="j1" transform="translate(100.5)"><use href="#c"/><text>392.351</text></g><g id="j2" transform="translate(158.1)"><use href="#c"/><text>557.34</text></g><g id="j3" transform="translate(215.8)"><use href="#c"/><text>214.219</text></g><g id="j4" transform="translate(273.5)"><use href="#c"/><text>339.299</text></g><g id="j5" transform="translate(331.2)"><use href="#c"/><text>353.192</text></g><g id="j6" transform="translate(388.8)"><use href="#c"/><text>370.372</text></g><g id="j7" transform="translate(446.5)"><use href="#c"/><text>438.422</text></g><g id="j8" transform="translate(504.2)"><use href="#c"/><text>314.3</text></g><g id="j9" transform="translate(561.8)"><use href="#c"/><text>319.315</text></g><g id="j10" transform="translate(619.5)"><use href="#c"/><text>281.287</text></g><g id="j11" transform="translate(677.2)"><use href="#c"/><text>431.421</text></g><g id="j12" transform="translate(734.8)"><use href="#c"/><text>458.438</text></g><g id="j13" transform="translate(792.5)"><use href="#c"/><text>318.233</text></g><g id="j14" transform="translate(850.2)"><use href="#c"/><text>338.272</text></g><g id="j15" transform="translate(907.9)"><use href="#c"/><text>498.505</text></g><g id="j16" transform="translate(965.5)"><use href="#c"/><text>357.31</text></g><g id="j17" transform="translate(1023.2)"><use href="#c"/><text>365.351</text></g><g id="j18" transform="translate(1080.9)"><use href="#c"/><text>273.252</text></g><g id="j19" transform="translate(1138.5)"><use href="#c"/><text>569.548</text></g><g id="j20" transform="translate(1196.2)"><use href="#c"/><text>210.215</text></g><g id="j21" transform="translate(1253.9)"><use href="#c"/><text>322.277</text></g><g id="j22" transform="translate(1311.5)"><use href="#c"/><text>438.415</text></g><g id="j23" transform="translate(1369.2)"><use href="#c"/><text>374.357</text></g><g id="j24" transform="translate(1426.9)"><use href="#c"/><text>356.353</text></g><g id="j25" transform="translate(1484.6)"><use href="#c"/><text>352.32</text></g><g id="j26" transform="translate(1542.2)"><use href="#c"/><text>296.308</text></g><g id="j27" transform="translate(1599.9)"><use href="#c"/><text>234.225</text></g><g id="j28" transform="translate(1657.6)"><use href="#c"/><text>192.174</text></g></g>
<g transform="translate(0,1633.3)"><g id="k0" transform="translate(42.8)"><use href="#c"/><text>521.474</text></g><g id="k1" transform="translate(100.5)"><use href="#c"/><text>244.194</text></g><g id="k2" transform="translate(158.1)"><use href="#c"/><text>434.388</text></g><g id="k3" transform="translate(215.8)"><use href="#c"/><text>366.388</text></g><g id="k4" transform="translate(273.5)"><use href="#c"/><text>493.524</text></g><g id="k5" transform="translate(331.2)"><use href="#c"/><text>330.318</text></g><g id="k6" transform="translate(388.8)"><use href="#c"/><text>367.339</text></g><g id="k7" transform="translate(446.5)"><use href="#c"/><text>262.251</text></g><g id="k8" transform="translate(504.2)"><use href="#c"/><text>341.353</text></g><g id="k9" transform="translate(561.8)"><use href="#c"/><text>210.199</text></g><g id="k10" transform="translate(619.5)"><use href="#c"/><text>437.359</text></g><g id="k11" transform="translate(677.2)"><use href="#c"/><text>448.431</text></g><g id="k12" transform="translate(734.8)"><use href="#c"/><text>610.189</text></g><g id="k13" transform="translate(792.5)"><use href="#c"/><text>295.279</text></g><g id="k14" transform="translate(850.2)"><use href="#c"/><text>234.24</text></g><g id="k15" transform="translate(907.9)"><use href="#c"/><text>395.38</text></g><g id="k16" transform="translate(965.5)"><use href="#c"/><text>406.385</text></g><g id="k17" transform="translate(1023.2)"><use href="#c"/><text>436.431</text></g><g id="k18" transform="translate(1080.9)"><use href="#c"/><text>442.442</text></g><g id="k19" transform="translate(1138.5)"><use href="#c"/><text>438.415</text></g><g id="k20" transform="translate(1196.2)"><use href="#c"/><text>399.427</text></g><g id="k21" transform="translate(1253.9)"><use href="#c"/><text>417.238</text></g><g id="k22" transform="translate(1311.5)"><use href="#c"/><text>286.234</text></g><g id="k23" transform="translate(1369.2)"><use href="#c"/><text>449.464</text></g><g id="k24" transform="translate(1426.9)"><use href="#c"/><text>305.291</text></g><g id="k25" transform="translate(1484.6)"><use href="#c"/><text>206.193</text></g><g id="k26" transform="translate(1542.2)"><use href="#c"/><text>226.19</text></g><g id="k27" transform="translate(1599.9)"><use href="#c"/><text>357.348</text></g><g id="k28" transform="translate(1657.6)"><use href="#c"/><text>282.243</text></g></g>
<g transform="translate(0,1691)"><g id="m0" transform="translate(42.8)"><use href="#c"/><text>225.234</text></g><g id="m1" transform="translate(100.5)"><use href="#c"/><text>335.289</text></g><g id="m2" transform="translate(158.1)"><use href="#c"/><text>409.421</text></g><g id="m3" transform="translate(215.8)"><use href="#c"/><text>450.392</text></g><g id="m4" transform="translate(273.5)"><use href="#c"/><text>534.539</text></g><g id="m5" transform="translate(331.2)"><use href="#c"/><text>341.31</text></g><g id="m6" transform="translate(388.8)"><use href="#c"/><text>338.356</text></g><g id="m7" transform="translate(446.5)"><use href="#c"/><text>409.432</text></g><g id="m8" transform="translate(504.2)"><use href="#c"/><text>408.381</text></g><g id="m9" transform="translate(561.8)"><use href="#c"/><text>448.376</text></g><g id="m10" transform="translate(619.5)"><use href="#c"/><text>297.329</text></g><g id="m11" transform="translate(677.2)"><use href="#c"/><text>300.222</text></g><g id="m12" transform="translate(734.8)"><use href="#c"/><text>195.188</text></g><g id="m13" transform="translate(792.5)"><use href="#c"/><text>554.184</text></g><g id="m14" transform="translate(850.2)"><use href="#c"/><text>428.372</text></g><g id="m15" transform="translate(907.9)"><use href="#c"/><text>295.279</text></g><g id="m16" transform="translate(965.5)"><use href="#c"/><text>267.211</text></g><g id="m17" transform="translate(1023.2)"><use href="#c"/><text>340.345</text></g><g id="m18" transform="translate(1080.9)"><use href="#c"/><text>461.44</text></g><g id="m19" transform="translate(1138.5)"><use href="#c"/><text>212.204</text></g><g id="m20" transform="translate(1196.2)"><use href="#c"/><text>452.357</text></g><g id="m21" transform="translate(1253.9)"><use href="#c"/><text>438.415</text></g><g id="m22" transform="translate(1311.5)"><use href="#c"/><text>398.417</text></g><g id="m23" transform="translate(1369.2)"><use href="#c"/><text>254.251</text></g><g id="m24" transform="translate(1426.9)"><use href="#c"/><text>460.465</text></g><g id="m25" transform="translate(1484.6)"><use href="#c"/><text>425.385</text></g><g id="m26" transform="translate(1542.2)"><use href="#c"/><text>770.866</text></g><g id="m27" transform="translate(1599.9)"><use href="#c"/><text>396.378</text></g><g id="m28" transform="translate(1657.6)"><use href="#c"/><text>296.25</text></g></g>
<g transform="translate(0,1748.7)"><g id="o0" transform="translate(42.8)"><use href="#c"/><text>405.369</text></g><g id="o1" transform="translate(100.5)"><use href="#c"/><text>377.298</text></g><g id="o2" transform="translate(158.1)"><use href="#c"/><text>455.437</text></g><g id="o3" transform="translate(215.8)"><use href="#c"/><text>702.873</text></g><g id="o4" transform="translate(273.5)"><use href="#c"/><text>296.294</text></g><g id="o5" transform="translate(331.2)"><use href="#c"/><text>467.475</text></g><g id="o6" transform="translate(388.8)"><use href="#c"/><text>267.274</text></g><g id="o7" transform="translate(446.5)"><use href="#c"/><text>412.303</text></g><g id="o8" transform="translate(504.2)"><use href="#c"/><text>121.049</text></g><g id="o9" transform="translate(561.8)"><use href="#c"/><text>465.477</text></g><g id="o10" transform="translate(619.5)"><use href="#c"/><text>276.268</text></g><g id="o11" transform="translate(677.2)"><use href="#c"/><text>424.367</text></g><g id="o12" transform="translate(734.8)"><use href="#c"/><text>306.262</text></g><g id="o13" transform="translate(792.5)"><use href="#c"/><text>458.452</text></g><g id="o14" transform="translate(850.2)"><use href="#c"/><text>269.263</text></g><g id="o15" transform="translate(907.9)"><use href="#c"/><text>300.274</text></g><g id="o16" transform="translate(965.5)"><use href="#c"/><text>338.33</text></g><g id="o17" transform="translate(1023.2)"><use href="#c"/><text>332.282</text></g><g id="o18" transform="translate(1080.9)"><use href="#c"/><text>474.501</text></g><g id="o19" transform="translate(1138.5)"><use href="#c"/><text>341.375</text></g><g id="o20" transform="translate(1196.2)"><use href="#c"/><text>481.455</text></g><g id="o21" transform="translate(1253.9)"><use href="#c"/><text>421.364</text></g><g id="o22" transform="translate(1311.5)"><use href="#c"/><text>367.338</text></g><g id="o23" transform="translate(1369.2)"><use href="#c"/><text>379.373</text></g><g id="o24" transform="translate(1426.9)"><use href="#c"/><text>369.39</text></g><g id="o25" transform="translate(1484.6)"><use href="#c"/><text>379.4</text></g><g id="o26" transform="translate(1542.2)"><use href="#c"/><text>240.202</text></g><g id="o27" transform="translate(1599.9)"><use href="#c"/><text>449.463</text></g><g id="o28" transform="translate(1657.6)"><use href="#c"/><text>337.326</text></g></g>
<g transform="translate(0,1806.4)"><g id="p0" transform="translate(42.8)"><use href="#c"/><text>449.44</text></g><g id="p1" transform="translate(100.5)"><use href="#c"/><text>242.243</text></g><g id="p2" transform="translate(158.1)"><use href="#c"/><text>375.036</text></g><g id="p3" transform="translate(215.8)"><use href="#c"/><text>681.601</text></g><g id="p4" transform="translate(273.5)"><use href="#c"/><text>308.263</text></g><g id="p5" transform="translate(331.2)"><use href="#c"/><text>307.284</text></g><g id="p6" transform="translate(388.8)"><use href="#c"/><text>289.258</text></g><g id="p7" transform="translate(446.5)"><use href="#c"/><text>377.304</text></g><g id="p8" transform="translate(504.2)"><use href="#c"/><text>407.384</text></g><g id="p9" transform="translate(561.8)"><use href="#c"/><text>328.304</text></g><g id="p10" transform="translate(619.5)"><use href="#c"/><text>261.237</text></g><g id="p11" transform="translate(677.2)"><use href="#c"/><text>224.216</text></g><g id="p12" transform="translate(734.8)"><use href="#c"/><text>332.283</text></g><g id="p13" transform="translate(792.5)"><use href="#c"/><text>293.249</text></g><g id="p14" transform="translate(850.2)"><use href="#c"/><text>483.493</text></g><g id="p15" transform="translate(907.9)"><use href="#c"/><text>426.411</text></g><g id="p16" transform="translate(965.5)"><use href="#c"/><text>315.25</text></g><g id="p17" transform="translate(1023.2)"><use href="#c"/><text>209.164</text></g><g id="p18" transform="translate(1080.9)"><use href="#c"/><text>367.337</text></g><g id="p19" transform="translate(1138.5)"><use href="#c"/><text>304.289</text></g><g id="p20" transform="translate(1196.2)"><use href="#c"/><text>339.307</text></g><g id="p21" transform="translate(1253.9)"><use href="#c"/><text>408.386</text></g><g id="p22" transform="translate(1311.5)"><use href="#c"/><text>283.244</text></g><g id="p23" transform="translate(1369.2)"><use href="#c"/><text>216.235</text></g><g id="p24" transform="translate(1426.9)"><use href="#c"/><text>378.372</text></g><g id="p25" transform="translate(1484.6)"><use href="#c"/><text>252.236</text></g><g id="p26" transform="translate(1542.2)"><use href="#c"/><text>269.259</text></g><g id="p27" transform="translate(1599.9)"><use href="#c"/><text>370.319</text></g><g id="p28" transform="translate(1657.6)"><use href="#c"/><text>384.435</text></g></g>
<g transform="translate(0,1864.1)"><g id="q0" transform="translate(42.8)"><use href="#c"/><text>408.381</text></g><g id="q1" transform="translate(100.5)"><use href="#c"/><text>211.18</text></g><g id="q2" transform="translate(158.1)"><use href="#c"/><text>230.738</text></g><g id="q3" transform="translate(215.8)"><use href="#c"/><text>432.435</text></g><g id="q4" transform="translate(273.5)"><use href="#c"/><text>405.379</text></g><g id="q5" transform="translate(331.2)"><use href="#c"/><text>391.403</text></g><g id="q6" transform="translate(388.8)"><use href="#c"/><text>351.367</text></g><g id="q7" transform="translate(446.5)"><use href="#c"/><text>503.444</text></g><g id="q8" transform="translate(504.2)"><use href="#c"/><text>367.313</text></g><g id="q9" transform="translate(561.8)"><use href="#c"/><text>305.296</text></g><g id="q10" transform="translate(619.5)"><use href="#c"/><text>305.284</text></g><g id="q11" transform="translate(677.2)"><use href="#c"/><text>282.281</text></g><g id="q12" transform="translate(734.8)"><use href="#c"/><text>597.477</text></g><g id="q13" transform="translate(792.5)"><use href="#c"/><text>300.285</text></g><g id="q14" transform="translate(850.2)"><use href="#c"/><text>179.155</text></g><g id="q15" transform="translate(907.9)"><use href="#c"/><text>376.344</text></g><g id="q16" transform="translate(965.5)"><use href="#c"/><text>326.35</text></g><g id="q17" transform="translate(1023.2)"><use href="#c"/><text>301.291</text></g><g id="q18" transform="translate(1080.9)"><use href="#c"/><text>224.162</text></g><g id="q19" transform="translate(1138.5)"><use href="#c"/><text>376.367</text></g><g id="q20" transform="translate(1196.2)"><use href="#c"/><text>469.491</text></g><g id="q21" transform="translate(1253.9)"><use href="#c"/><text>254.243</text></g><g id="q22" transform="translate(1311.5)"><use href="#c"/><text>358.367</text></g><g id="q23" transform="translate(1369.2)"><use href="#c"/><text>374.321</text></g><g id="q24" transform="translate(1426.9)"><use href="#c"/><text>336.341</text></g><g id="q25" transform="translate(1484.6)"><use href="#c"/><text>477.44</text></g><g id="q26" transform="translate(1542.2)"><use href="#c"/><text>394.371</text></g><g id="q27" transform="translate(1599.9)"><use href="#c"/><text>341.335</text></g><g id="q28" transform="translate(1657.6)"><use href="#c"/><text>268.278</text></g></g>
<g transform="translate(0,1921.8)"><g id="r0" transform="translate(42.8)"><use href="#c"/><text>309.32</text></g><g id="r1" transform="translate(100.5)"><use href="#c"/><text>481.543</text></g><g id="r2" transform="translate(158.1)"><use href="#c"/><text>452.356</text></g><g id="r3" transform="translate(215.8)"><use href="#c"/><text>245.239</text></g><g id="r4" transform="translate(273.5)"><use href="#c"/><text>404.403</text></g><g id="r5" transform="translate(331.2)"><use href="#c"/><text>417.338</text></g><g id="r6" transform="translate(388.8)"><use href="#c"/><text>280.23</text></g><g id="r7" transform="translate(446.5)"><use href="#c"/><text>278.238</text></g><g id="r8" transform="translate(504.2)"><use href="#c"/><text>405.369</text></g><g id="r9" transform="translate(561.8)"><use href="#c"/><text>351.275</text></g><g id="r10" transform="translate(619.5)"><use href="#c"/><text>342.371</text></g><g id="r11" transform="translate(677.2)"><use href="#c"/><text>375.036</text></g><g id="r12" transform="translate(734.8)"><use href="#c"/><text>371.404</text></g><g id="r13" transform="translate(792.5)"><use href="#c"/><text>489.169</text></g><g id="r14" transform="translate(850.2)"><use href="#c"/><text>476.463</text></g><g id="r15" transform="translate(907.9)"><use href="#c"/><text>256.259</text></g><g id="r16" transform="translate(965.5)"><use href="#c"/><text>412.377</text></g><g id="r17" transform="translate(1023.2)"><use href="#c"/><text>321.33</text></g><g id="r18" transform="translate(1080.9)"><use href="#c"/><text>458.43</text></g><g id="r19" transform="translate(1138.5)"><use href="#c"/><text>511.485</text></g><g id="r20" transform="translate(1196.2)"><use href="#c"/><text>307.21</text></g><g id="r21" transform="translate(1253.9)"><use href="#c"/><text>450.392</text></g><g id="r22" transform="translate(1311.5)"><use href="#c"/><text>300.258</text></g><g id="r23" transform="translate(1369.2)"><use href="#c"/><text>335.286</text></g><g id="r24" transform="translate(1426.9)"><use href="#c"/><text>487.479</text></g><g id="r25" transform="translate(1484.6)"><use href="#c"/><text>491.506</text></g><g id="r26" transform="translate(1542.2)"><use href="#c"/><text>227.219</text></g><g id="r27" transform="translate(1599.9)"><use href="#c"/><text>438.426</text></g><g id="r28" transform="translate(1657.6)"><use href="#c"/><text>385.361</text></g></g>
<g transform="translate(0,1979.5)"><g id="w0" transform="translate(42.8)"><use href="#c"/><text>495.506</text></g><g id="w1" transform="translate(100.5)"><use href="#c"/><text>376.344</text></g><g id="w2" transform="translate(158.1)"><use href="#c"/><text>326.282</text></g><g id="w3" transform="translate(215.8)"><use href="#c"/><text>922.027</text></g><g id="w4" transform="translate(273.5)"><use href="#c"/><text>363.35</text></g><g id="w5" transform="translate(331.2)"><use href="#c"/><text>464.498</text></g><g id="w6" transform="translate(388.8)"><use href="#c"/><text>385.312</text></g><g id="w7" transform="translate(446.5)"><use href="#c"/><text>242.283</text></g><g id="w8" transform="translate(504.2)"><use href="#c"/><text>462.482</text></g><g id="w9" transform="translate(561.8)"><use href="#c"/><text>256.267</text></g><g id="w10" transform="translate(619.5)"><use href="#c"/><text>397.384</text></g><g id="w11" transform="translate(677.2)"><use href="#c"/><text>242.251</text></g><g id="w12" transform="translate(734.8)"><use href="#c"/><text>216.2</text></g><g id="w13" transform="translate(792.5)"><use href="#c"/><text>476.444</text></g><g id="w14" transform="translate(850.2)"><use href="#c"/><text>325.352</text></g><g id="w15" transform="translate(907.9)"><use href="#c"/><text>351.308</text></g><g id="w16" transform="translate(965.5)"><use href="#c"/><text>228.22</text></g><g id="w17" transform="translate(1023.2)"><use href="#c"/><text>265.231</text></g><g id="w18" transform="translate(1080.9)"><use href="#c"/><text>348.288</text></g><g id="w19" transform="translate(1138.5)"><use href="#c"/><text>271.307</text></g><g id="w20" transform="translate(1196.2)"><use href="#c"/><text>394.366</text></g><g id="w21" transform="translate(1253.9)"><use href="#c"/><text>384.352</text></g><g id="w22" transform="translate(1311.5)"><use href="#c"/><text>481.486</text></g><g id="w23" transform="translate(1369.2)"><use href="#c"/><text>274.248</text></g><g id="w24" transform="translate(1426.9)"><use href="#c"/><text>259.237</text></g><g id="w25" transform="translate(1484.6)"><use href="#c"/><text>394.366</text></g><g id="w26" transform="translate(1542.2)"><use href="#c"/><text>326.29</text></g><g id="w27" transform="translate(1599.9)"><use href="#c"/><text>323.312</text></g><g id="w28" transform="translate(1657.6)"><use href="#c"/><text>430.353</text></g></g>
<g transform="translate(0,2037.2)"><g id="x0" transform="translate(42.8)"><use href="#c"/><text>376.344</text></g><g id="x1" transform="translate(100.5)"><use href="#c"/><text>303.284</text></g><g id="x2" transform="translate(158.1)"><use href="#c"/><text>432.435</text></g><g id="x3" transform="translate(215.8)"><use href="#c"/><text>296.294</text></g><g id="x4" transform="translate(273.5)"><use href="#c"/><text>361.318</text></g><g id="x5" transform="translate(331.2)"><use href="#c"/><text>312.293</text></g><g id="x6" transform="translate(388.8)"><use href="#c"/><text>336.332</text></g><g id="x7" transform="translate(446.5)"><use href="#c"/><text>294.283</text></g><g id="x8" transform="translate(504.2)"><use href="#c"/><text>467.318</text></g><g id="x9" transform="translate(561.8)"><use href="#c"/><text>287.247</text></g><g id="x10" transform="translate(619.5)"><use href="#c"/><text>473.197</text></g><g id="x11" transform="translate(677.2)"><use href="#c"/><text>292.263</text></g><g id="x12" transform="translate(734.8)"><use href="#c"/><text>681.604</text></g><g id="x13" transform="translate(792.5)"><use href="#c"/><text>468.403</text></g><g id="x14" transform="translate(850.2)"><use href="#c"/><text>435.467</text></g><g id="x15" transform="translate(907.9)"><use href="#c"/><text>369.404</text></g><g id="x16" transform="translate(965.5)"><use href="#c"/><text>286.235</text></g><g id="x17" transform="translate(1023.2)"><use href="#c"/><text>437.395</text></g><g id="x18" transform="translate(1080.9)"><use href="#c"/><text>328.283</text></g><g id="x19" transform="translate(1138.5)"><use href="#c"/><text>210.197</text></g><g id="x20" transform="translate(1196.2)"><use href="#c"/><text>534.539</text></g><g id="x21" transform="translate(1253.9)"><use href="#c"/><text>483.506</text></g><g id="x22" transform="translate(1311.5)"><use href="#c"/><text>274.243</text></g><g id="x23" transform="translate(1369.2)"><use href="#c"/><text>287.302</text></g><g id="x24" transform="translate(1426.9)"><use href="#c"/><text>383.359</text></g><g id="x25" transform="translate(1484.6)"><use href="#c"/><text>332.299</text></g><g id="x26" transform="translate(1542.2)"><use href="#c"/><text>311.342</text></g><g id="x27" transform="translate(1599.9)"><use href="#c"/><text>337.273</text></g><g id="x28" transform="translate(1657.6)"><use href="#c"/><text>395.372</text></g></g>
<g transform="translate(0,2094.9)"><g id="y0" transform="translate(42.8)"><use href="#c"/><text>370.319</text></g><g id="y1" transform="translate(100.5)"><use href="#c"/><text>342.367</text></g><g id="y2" transform="translate(158.1)"><use href="#c"/><text>467.459</text></g><g id="y3" transform="translate(215.8)"><use href="#c"/><text>380.391</text></g><g id="y4" transform="translate(273.5)"><use href="#c"/><text>266.259</text></g><g id="y5" transform="translate(331.2)"><use href="#c"/><text>396.351</text></g><g id="y6" transform="translate(388.8)"><use href="#c"/><text>250.208</text></g><g id="y7" transform="translate(446.5)"><use href="#c"/><text>448.431</text></g><g id="y8" transform="translate(504.2)"><use href="#c"/><text>510.577</text></g><g id="y9" transform="translate(561.8)"><use href="#c"/><text>266.283</text></g><g id="y10" transform="translate(619.5)"><use href="#c"/><text>458.43</text></g><g id="y11" transform="translate(677.2)"><use href="#c"/><text>323.31</text></g><g id="y12" transform="translate(734.8)"><use href="#c"/><text>465.445</text></g><g id="y13" transform="translate(792.5)"><use href="#c"/><text>408.375</text></g><g id="y14" transform="translate(850.2)"><use href="#c"/><text>274.199</text></g><g id="y15" transform="translate(907.9)"><use href="#c"/><text>315.302</text></g><g id="y16" transform="translate(965.5)"><use href="#c"/><text>237.253</text></g><g id="y17" transform="translate(1023.2)"><use href="#c"/><text>405.369</text></g><g id="y18" transform="translate(1080.9)"><use href="#c"/><text>330.288</text></g><g id="y19" transform="translate(1138.5)"><use href="#c"/><text>452.346</text></g><g id="y20" transform="translate(1196.2)"><use href="#c"/><text>241.231</text></g><g id="y21" transform="translate(1253.9)"><use href="#c"/><text>413.415</text></g><g id="y22" transform="translate(1311.5)"><use href="#c"/><text>407.385</text></g><g id="y23" transform="translate(1369.2)"><use href="#c"/><text>391.39</text></g><g id="y24" transform="translate(1426.9)"><use href="#c"/><text>422.425</text></g><g id="y25" transform="translate(1484.6)"><use href="#c"/><text>466.447</text></g><g id="y26" transform="translate(1542.2)"><use href="#c"/><text>279.248</text></g><g id="y27" transform="translate(1599.9)"><use href="#c"/><text>491.475</text></g><g id="y28" transform="translate(1657.6)"><use href="#c"/><text>393.422</text></g></g>
<g transform="translate(0,2152.6)"><g id="z0" transform="translate(42.8)"><use href="#c"/><text>267.244</text></g><g id="z1" transform="translate(100.5)"><use href="#c"/><text>312.324</text></g><g id="z2" transform="translate(158.1)"><use href="#c"/><text>326.354</text></g><g id="z3" transform="translate(215.8)"><use href="#c"/><text>376.352</text></g><g id="z4" transform="translate(273.5)"><use href="#c"/><text>461.414</text></g><g id="z5" transform="translate(331.2)"><use href="#c"/><text>401.415</text></g><g id="z6" transform="translate(388.8)"><use href="#c"/><text>339.319</text></g><g id="z7" transform="translate(446.5)"><use href="#c"/><text>392.333</text></g><g id="z8" transform="translate(504.2)"><use href="#c"/><text>702.228</text></g><g id="z9" transform="translate(561.8)"><use href="#c"/><text>397.342</text></g><g id="z10" transform="translate(619.5)"><use href="#c"/><text>417.238</text></g><g id="z11" transform="translate(677.2)"><use href="#c"/><text>489.352</text></g><g id="z12" transform="translate(734.8)"><use href="#c"/><text>495.518</text></g><g id="z13" transform="translate(792.5)"><use href="#c"/><text>421.385</text></g><g id="z14" transform="translate(850.2)"><use href="#c"/><text>296.307</text></g><g id="z15" transform="translate(907.9)"><use href="#c"/><text>311.314</text></g><g id="z16" transform="translate(965.5)"><use href="#c"/><text>436.413</text></g><g id="z17" transform="translate(1023.2)"><use href="#c"/><text>308.275</text></g><g id="z18" transform="translate(1080.9)"><use href="#c"/><text>348.288</text></g><g id="z19" transform="translate(1138.5)"><use href="#c"/><text>305.284</text></g><g id="z20" transform="translate(1196.2)"><use href="#c"/><text>496.541</text></g><g id="z21" transform="translate(1253.9)"><use href="#c"/><text>339.336</text></g><g id="z22" transform="translate(1311.5)"><use href="#c"/><text>391.389</text></g><g id="z23" transform="translate(1369.2)"><use href="#c"/><text>192.169</text></g><g id="z24" transform="translate(1426.9)"><use href="#c"/><text>243.234</text></g><g id="z25" transform="translate(1484.6)"><use href="#c"/><text>311.268</text></g><g id="z26" transform="translate(1542.2)"><use href="#c"/><text>368.332</text></g><g id="z27" transform="translate(1599.9)"><use href="#c"/><text>340.355</text></g><g id="z28" transform="translate(1657.6)"><use href="#c"/><text>352.317</text></g></g>
<g transform="translate(0,2210.3)"><g id="aa0" transform="translate(42.8)"><use href="#c"/><text>267.247</text></g><g id="aa1" transform="translate(100.5)"><use href="#c"/><text>334.298</text></g><g id="aa2" transform="translate(158.1)"><use href="#c"/><text>267.247</text></g><g id="aa3" transform="translate(215.8)"><use href="#c"/><text>340.349</text></g><g id="aa4" transform="translate(273.5)"><use href="#c"/><text>326.351</text></g><g id="aa5" transform="translate(331.2)"><use href="#c"/><text>351.369</text></g><g id="aa6" transform="translate(388.8)"><use href="#c"/><text>255.282</text></g><g id="aa7" transform="translate(446.5)"><use href="#c"/><text>250.251</text></g><g id="aa8" transform="translate(504.2)"><use href="#c"/><text>297.288</text></g><g id="aa9" transform="translate(561.8)"><use href="#c"/><text>392.356</text></g><g id="aa10" transform="translate(619.5)"><circle r="11.5" fill="#990099"/><text>389.394</text></g><g id="aa11" transform="translate(677.2)"><use href="#c"/><text>378.32</text></g><g id="aa12" transform="translate(734.8)"><use href="#c"/><text>408.4</text></g><g id="aa13" transform="translate(792.5)"><use href="#c"/><text>407.385</text></g><g id="aa14" transform="translate(850.2)"><use href="#c"/><text>440.44</text></g><g id="aa15" transform="translate(907.9)"><use href="#c"/><text>412.375</text></g><g id="aa16" transform="translate(965.5)"><use href="#c"/><text>274.27</text></g><g id="aa17" transform="translate(1023.2)"><use href="#c"/><text>523.501</text></g><g id="aa18" transform="translate(1080.9)"><use href="#c"/><text>192.169</text></g><g id="aa19" transform="translate(1138.5)"><use href="#c"/><text>350.349</text></g><g id="aa20" transform="translate(1196.2)"><use href="#c"/><text>380.4</text></g><g id="aa21" transform="translate(1253.9)"><use href="#c"/><text>310.3</text></g><g id="aa22" transform="translate(1311.5)"><use href="#c"/><text>292.257</text></g><g id="aa23" transform="translate(1369.2)"><use href="#c"/><text>354.297</text></g><g id="aa24" transform="translate(1426.9)"><use href="#c"/><text>536.174</text></g><g id="aa25" transform="translate(1484.6)"><use href="#c"/><text>364.314</text></g><g id="aa26" transform="translate(1542.2)"><use href="#c"/><text>379.337</text></g><g id="aa27" transform="translate(1599.9)"><use href="#c"/><text>194.192</text></g><g id="aa28" transform="translate(1657.6)"><use href="#c"/><text>382.402</text></g></g>
<g transform="translate(0,2268)"><g id="ab0" transform="translate(42.8)"><use href="#c"/><text>341.384</text></g><g id="ab1" transform="translate(100.5)"><use href="#c"/><text>230.215</text></g><g id="ab2" transform="translate(158.1)"><use href="#c"/><text>198.224</text></g><g id="ab3" transform="translate(215.8)"><use href="#c"/><text>218.178</text></g><g id="ab4" transform="translate(273.5)"><use href="#c"/><text>290.249</text></g><g id="ab5" transform="translate(331.2)"><use href="#c"/><text>246.243</text></g><g id="ab6" transform="translate(388.8)"><use href="#c"/><text>368.369</text></g><g id="ab7" transform="translate(446.5)"><use href="#c"/><text>385.388</text></g><g id="ab8" transform="translate(504.2)"><use href="#c"/><text>522.554</text></g><g id="ab9" transform="translate(561.8)"><use href="#c"/><text>419.394</text></g><g id="ab10" transform="translate(619.5)"><use href="#c"/><text>264.223</text></g><g id="ab11" transform="translate(677.2)"><use href="#c"/><text>328.285</text></g><g id="ab12" transform="translate(734.8)"><use href="#c"/><text>373.287</text></g><g id="ab13" transform="translate(792.5)"><use href="#c"/><text>258.276</text></g><g id="ab14" transform="translate(850.2)"><use href="#c"/><text>401.357</text></g><g id="ab15" transform="translate(907.9)"><use href="#c"/><text>329.357</text></g><g id="ab16" transform="translate(965.5)"><use href="#c"/><text>467.45</text></g><g id="ab17" transform="translate(1023.2)"><use href="#c"/><text>431.426</text></g><g id="ab18" transform="translate(1080.9)"><use href="#c"/><text>458.438</text></g><g id="ab19" transform="translate(1138.5)"><use href="#c"/><text>332.257</text></g><g id="ab20" transform="translate(1196.2)"><use href="#c"/><text>329.286</text></g><g id="ab21" transform="translate(1253.9)"><use href="#c"/><text>194.187</text></g><g id="ab22" transform="translate(1311.5)"><use href="#c"/><text>279.248</text></g><g id="ab23" transform="translate(1369.2)"><use href="#c"/><text>414.389</text></g><g id="ab24" transform="translate(1426.9)"><use href="#c"/><text>208.17</text></g><g id="ab25" transform="translate(1484.6)"><use href="#c"/><text>284.258</text></g><g id="ab26" transform="translate(1542.2)"><use href="#c"/><text>250.211</text></g><g id="ab27" transform="translate(1599.9)"><use href="#c"/><text>571.573</text></g><g id="ab28" transform="translate(1657.6)"><use href="#c"/><text>350.339</text></g></g>
<g transform="translate(0,2325.7)"><g id="ac0" transform="translate(42.8)"><use href="#c"/><text>324.361</text></g><g id="ac1" transform="translate(100.5)"><use href="#c"/><text>361.327</text></g><g id="ac2" transform="translate(158.1)"><use href="#c"/><text>424.344</text></g><g id="ac3" transform="translate(215.8)"><use href="#c"/><text>325.324</text></g><g id="ac4" transform="translate(273.5)"><use href="#c"/><text>324.326</text></g><g id="ac5" transform="translate(331.2)"><use href="#c"/><text>367.372</text></g><g id="ac6" transform="translate(388.8)"><use href="#c"/><text>312.32</text></g><g id="ac7" transform="translate(446.5)"><use href="#c"/><text>378.38</text></g><g id="ac8" transform="translate(504.2)"><use href="#c"/><text>447.448</text></g><g id="ac9" transform="translate(561.8)"><use href="#c"/><text>355.284</text></g><g id="ac10" transform="translate(619.5)"><use href="#c"/><text>259.236</text></g><g id="ac11" transform="translate(677.2)"><use href="#c"/><text>418.42</text></g><g id="ac12" transform="translate(734.8)"><use href="#c"/><text>206.155</text></g><g id="ac13" transform="translate(792.5)"><use href="#c"/><text>529.526</text></g><g id="ac14" transform="translate(850.2)"><use href="#c"/><text>253.253</text></g><g id="ac15" transform="translate(907.9)"><use href="#c"/><text>378.37</text></g><g id="ac16" transform="translate(965.5)"><use href="#c"/><text>423.43</text></g><g id="ac17" transform="translate(1023.2)"><use href="#c"/><text>363.36</text></g><g id="ac18" transform="translate(1080.9)"><use href="#c"/><text>188.166</text></g><g id="ac19" transform="translate(1138.5)"><use href="#c"/><text>359.331</text></g><g id="ac20" transform="translate(1196.2)"><use href="#c"/><text>325.325</text></g><g id="ac21" transform="translate(1253.9)"><use href="#c"/><text>295.274</text></g><g id="ac22" transform="translate(1311.5)"><use href="#c"/><text>470.467</text></g><g id="ac23" transform="translate(1369.2)"><use href="#c"/><text>388.311</text></g><g id="ac24" transform="translate(1426.9)"><use href="#c"/><text>314.3</text></g></g>
</g>
<g id="annotation-connectors">
<path class="ln" stroke="#92d050" marker-end="url(#mg)" d="M262.8,891.7V1193.3H839.3V1495.7"/>
<path class="ln" stroke="#e36c0a" marker-end="url(#mo)" d="M995.4,912V1119H695.5"/>
<path class="ln" stroke="#e36c0a" marker-end="url(#mo)" d="M1235,912V1199H965.7V1333"/>
<path class="ln" stroke="#8064a2" marker-end="url(#mp)" d="M1562,914V1551.7H620.4V2189"/>
</g>
<g id="question">
<path d="M259,775C262,762 285,760 285,778C285,792 271,790 270,808" fill="none" stroke="url(#qg)" stroke-width="12" stroke-linecap="round"/>
<rect x="263.5" y="813" width="13" height="15" rx="4" fill="url(#qg)"/>
</g>
<g id="box-mz">
<rect class="box" x="205.7" y="862.7" width="115.3" height="29" stroke="#92d050"/>
<text class="t" x="263" y="882.7"><tspan font-style="italic">m/z</tspan> 389,3898</text>
</g>
<g id="box-cfm">
<rect class="box" x="667" y="886" width="154" height="50" stroke="#4f81bd"/>
<text class="t2" x="744" y="906.7">squelettes simulés</text>
<text class="t2" x="744" y="926.7">(CFM-ID)</text>
</g>
<g id="box-64">
<rect class="box" x="914.7" y="722.7" width="160.3" height="189.3" stroke="#e36c0a"/>
<path class="mol" d="M936,781L920.8,771.7V742.7L945.4,728.3L970.1,742.7V771.7L955,781M925,745V768M945.4,732.3L965,743.5M952,780L966,768.5M970.1,742.7L995.4,729.3L1020,744L1044.7,730L1070,744.3M945.4,796V830L975,844L1003.6,829.3L1028.8,844"/>
<text class="at" x="945.4" y="793">N</text>
<text class="t" x="945.4" y="777" font-size="13">+</text>
<text class="t" x="995" y="881.7" font-weight="bold">64</text>
<text class="t" x="995" y="903.3"><tspan font-style="italic">m/z</tspan> 192,1747</text>
</g>
<g id="box-65">
<rect class="box" x="1156" y="722.7" width="160" height="189.3" stroke="#e36c0a"/>
<path class="mol" d="M1177,781L1162,771.7V742.7L1186.8,728.3L1212,742.7V771.7L1196.5,781M1187,733L1206,746M1212,742.7L1237,729.3L1261.5,744L1286,730L1311.5,744.3M1186.8,796V830L1216.5,844L1245,829.3L1270.5,844"/>
<text class="at" x="1186.8" y="793">N</text>
<text class="t" x="1235.6" y="881.7" font-weight="bold">65</text>
<text class="t" x="1235.6" y="903.3"><tspan font-style="italic">m/z</tspan> 196,2060</text>
</g>
<g id="box-66">
<rect class="box" x="1436" y="722.7" width="255.7" height="184.6" stroke="#8064a2"/>
<g transform="translate(1420,710) scale(.3333)">
<path fill="none" stroke="#000" stroke-width="5" d="M68,157L112,80H198L243,157L290,148M316,147H330M390,60L487,82M390,60L368,122M365,165L400,190L360,260M400,190L440,180M487,168L545,185M590,175L645,148L720,190L795,148V60M555,215L527,262M360,260V345L283,388L207,345L132,388M447,237L472,310L553,333L577,413L660,437"/>
<path fill="none" stroke="#000" stroke-width="10" d="M302,205L360,260L447,237L527,262"/>
<path fill="#000" d="M447,147L453,237H441Z"/>
<path fill="none" stroke="#990099" stroke-width="9" d="M302,205V97L390,60M487,168V82L447,147"/>
<text x="350" y="160" font-size="51" text-anchor="middle">N</text>
<text x="568" y="210" font-size="51" text-anchor="middle">N</text>
</g>
<text class="t2" x="1555.5" y="878">composé <tspan font-weight="bold">66'</tspan></text>
<text class="t2" x="1555" y="898">obtenu</text>
</g>
</svg>
